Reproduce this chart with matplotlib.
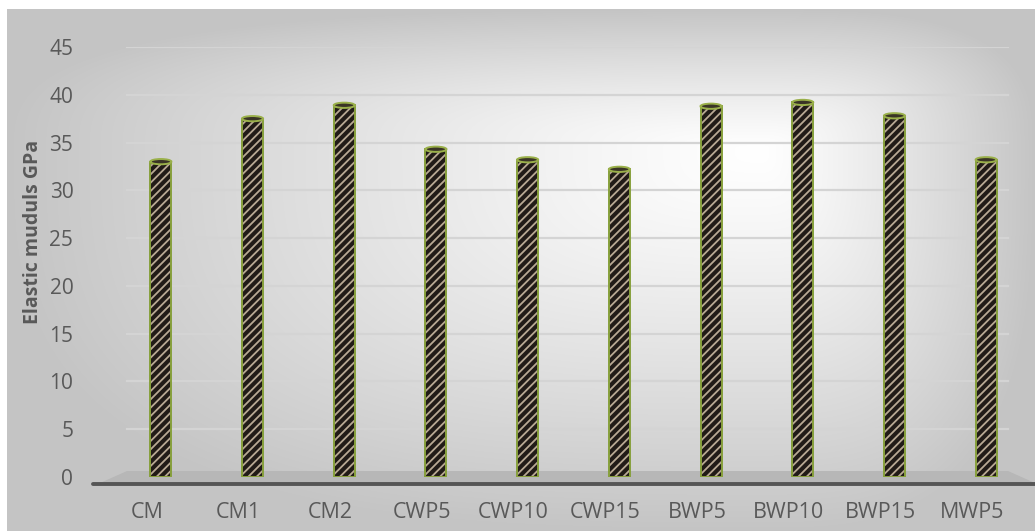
import numpy as np
import matplotlib
matplotlib.use("Agg")
import matplotlib.pyplot as plt
from matplotlib.patches import Polygon, Ellipse
from matplotlib.transforms import ScaledTranslation

# Elastic modulus per mix (GPa)
categories = ["CM", "CM1", "CM2", "CWP5", "CWP10", "CWP15",
              "BWP5", "BWP10", "BWP15", "MWP5"]
modulus = [33.0, 37.5, 38.9, 34.3, 33.2, 32.2, 38.8, 39.2, 37.8, 33.2]
y_ticks = [0, 5, 10, 15, 20, 25, 30, 35, 40, 45]
y_label = "Elastic muduls GPa"

W, H = 1035, 531
plt.rcParams["font.family"] = ["Open Sans", "DejaVu Sans"]
plt.rcParams["hatch.linewidth"] = 1.3
fig = plt.figure(figsize=(W / 100, H / 100), dpi=100)

# ---- background: soft grey-to-white fill, brightest towards upper right ----
bg = fig.add_axes([0, 0, 1, 1])
bg.set_axis_off()
X, Y = np.meshgrid(np.arange(W) + 0.5, np.arange(H) + 0.5)
cx, cy = 760.0, 150.0
dx = np.where(X < cx, (cx - X) / (cx - 7), (X - cx) / (W - cx))
dy = np.where(Y < cy, (cy - Y) / (cy - 9), (Y - cy) / (H - cy))
t = np.clip((dx ** 3 + dy ** 3) ** (1 / 3), 0, 1)
shade = 1.0 - 0.23 * t ** 1.2
shade[(X < 7) | (Y < 9)] = 1.0
bg.imshow(np.dstack([shade] * 3), extent=(0, W, H, 0), aspect="auto",
          interpolation="bilinear")
bg.set_xlim(0, W)
bg.set_ylim(H, 0)

# floor slab under the columns
bg.add_patch(Polygon([(100, 483), (127, 471), (1008, 471), (1035, 483)],
                     closed=True, facecolor="#b7b7b7", edgecolor="none"))
bg.plot([93, 1035], [483.5, 483.5], color="#555555", lw=2.8,
        solid_capstyle="round")

# ---- main axes ----
ax = fig.add_axes([115 / W, (H - 477) / H, (1032 - 115) / W, (477 - 47) / H])
ax.set_facecolor("none")
for s in ax.spines.values():
    s.set_visible(False)
ax.set_xlim(-0.5, len(categories) - 0.5)
ax.set_ylim(0, 45)

for v in y_ticks[1:]:
    ax.axhline(v, xmin=(127 - 115) / 917, xmax=(1008 - 115) / 917,
               color="#d4d4d4", lw=1.6, zorder=0)

x = np.arange(len(categories))
bw = 0.23
ax.bar(x, modulus, width=bw, color="#211b17", hatch="////",
       edgecolor="#b9a994", linewidth=0, zorder=3)
ax.bar(x, modulus, width=bw, fill=False, edgecolor="#87a03c",
       linewidth=1.4, zorder=4)
for xi, v in zip(x, modulus):
    ax.add_patch(Ellipse((xi, v), width=bw, height=0.55,
                         facecolor="#3a3426", edgecolor="#9ab04a",
                         lw=1.4, zorder=5))

ax.set_yticks(y_ticks)
ax.set_yticklabels([str(v) for v in y_ticks])
ax.tick_params(axis="y", length=0, pad=30, labelsize=15,
               labelcolor="#595959")
ax.set_xticks(x)
ax.set_xticklabels(categories)
ax.tick_params(axis="x", length=0, pad=18, labelsize=15.5,
               labelcolor="#595959")
shift = ScaledTranslation(-14 / 100, 0, fig.dpi_scale_trans)
for lab in ax.get_xticklabels():
    lab.set_transform(lab.get_transform() + shift)

fig.text(33 / W, 1 - 232 / H, y_label, rotation=90, ha="center",
         va="center", fontsize=14, fontweight="bold", color="#595959")

fig.savefig("out.png", dpi=100)
